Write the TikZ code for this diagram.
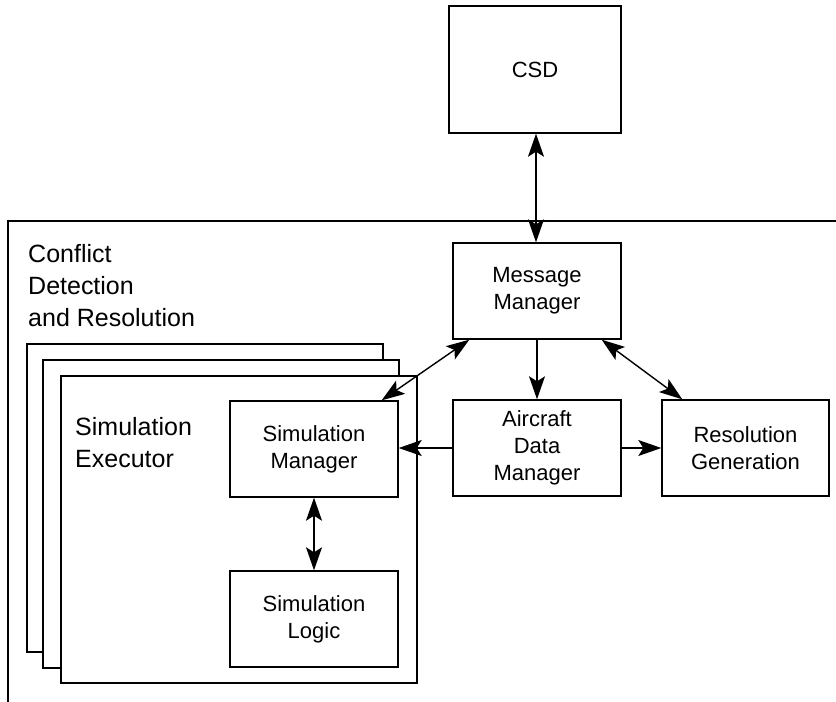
\documentclass[tikz,border=0pt]{standalone}
\usepackage{fontspec}
\setmainfont{Liberation Sans}
\usetikzlibrary{arrows.meta}
\begin{document}
\begin{tikzpicture}[x=1pt,y=-1pt,
  box/.style={draw=black,line width=1.4pt,fill=white,inner sep=0pt,
    minimum width=168pt,minimum height=96pt,align=center,
    font=\fontsize{22}{27}\selectfont},
  frame/.style={draw=black,line width=1.4pt,fill=white},
  lbl/.style={anchor=north west,inner sep=0pt,align=left,
    font=\fontsize{25}{32}\selectfont},
  tip/.tip={Stealth[length=23pt,width=16pt,inset=5pt]},
  conn/.style={line width=1.4pt,-tip},
  bconn/.style={line width=1.4pt,tip-tip}]
\useasboundingbox (0,0) rectangle (836,702);
% outer frame
\draw[line width=2pt] (8,221) rectangle (860,730);
\node[lbl] (cdr) at (28,244.5) {Conflict\\Detection\\and Resolution};
% stacked executor frames
\draw[frame] (27,344) rectangle (383,652);
\draw[frame] (43,360) rectangle (399,668);
\draw[frame] (61,376) rectangle (417,683);
\node[lbl] (se) at (75,416.8) {Simulation\\Executor};
% boxes
\node[box,minimum width=172pt,minimum height=127pt] (csd) at (535,69.5) {CSD};
\node[box] (mm) at (537,291) {Message\\Manager};
\node[box] (adm) at (537,448) {Aircraft\\Data\\Manager};
\node[box,minimum width=167pt] (rg) at (745.5,448) {Resolution\\Generation};
\node[box] (sm) at (314,449) {Simulation\\Manager};
\node[box] (sl) at (314,619) {Simulation\\Logic};
% connectors
\draw[bconn] ([xshift=1pt]csd.south) -- ([xshift=-1pt]mm.north);
\draw[conn] (mm.south) -- (adm.north);
\draw[bconn] ([xshift=17pt]mm.south west) -- ([xshift=-17pt]sm.north east);
\draw[bconn] ([xshift=-20pt]mm.south east) -- ([xshift=21pt]rg.north west);
\draw[conn] (adm.west) -- (sm.east |- adm.west);
\draw[conn] (adm.east) -- (rg.west);
\draw[bconn] (sm.south) -- (sl.north);
\end{tikzpicture}
\end{document}
